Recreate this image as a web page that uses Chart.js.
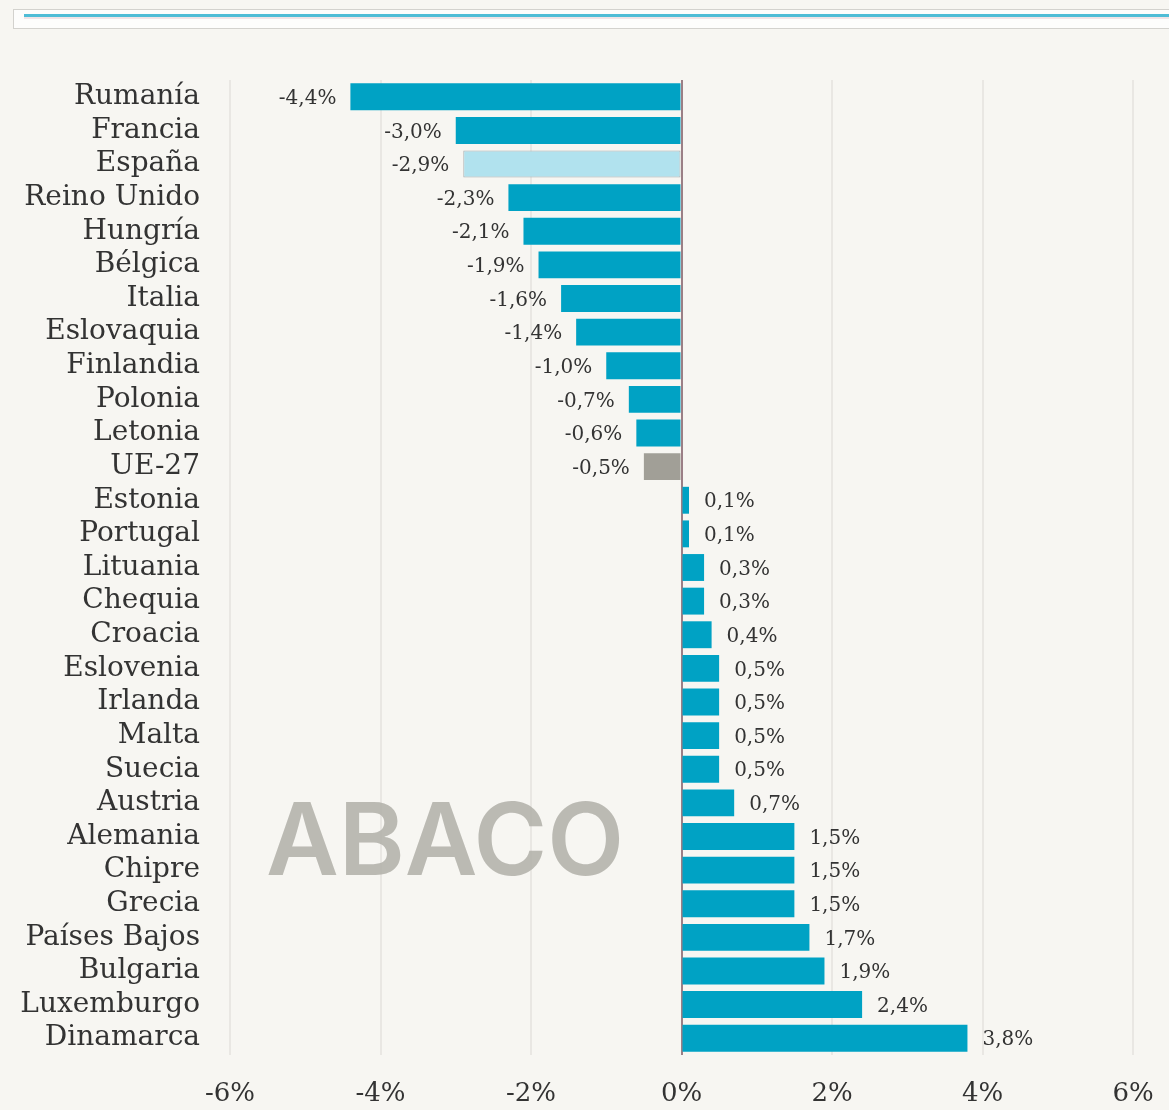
<!DOCTYPE html>
<html>
<head>
<meta charset="utf-8">
<script src="https://cdn.jsdelivr.net/npm/chart.js@4.4.6/dist/chart.umd.min.js"></script>
<style>
  html, body { margin: 0; padding: 0; background: #f7f6f2; }
  #wrap { position: relative; width: 1169px; height: 1110px; }
  /* header strip at the top of the card */
  #strip {
    position: absolute; left: 13px; top: 9px; width: 1170px; height: 20px;
    background: #fdfdfc; border: 1px solid #d3d2ce; box-sizing: border-box;
  }
  #strip::after {
    content: ""; position: absolute; left: 10px; right: 0; top: 4px; height: 3px;
    background: #4fbdd6; box-shadow: 0 2px 0 #f1e4e6;
  }
  canvas { position: absolute; left: 0; top: 0; }
</style>
</head>
<body>
<div id="wrap">
  <div id="strip"></div>
  <canvas id="chart" width="1169" height="1110"></canvas>
</div>
<script>
// countries, top to bottom
const countries = [
  "Rumanía", "Francia", "España", "Reino Unido", "Hungría", "Bélgica", "Italia",
  "Eslovaquia", "Finlandia", "Polonia", "Letonia", "UE-27", "Estonia", "Portugal",
  "Lituania", "Chequia", "Croacia", "Eslovenia", "Irlanda", "Malta", "Suecia",
  "Austria", "Alemania", "Chipre", "Grecia", "Países Bajos", "Bulgaria",
  "Luxemburgo", "Dinamarca"
];
// change in %
const changes = [
  -4.4, -3.0, -2.9, -2.3, -2.1, -1.9, -1.6,
  -1.4, -1.0, -0.7, -0.6, -0.5, 0.1, 0.1,
  0.3, 0.3, 0.4, 0.5, 0.5, 0.5, 0.5,
  0.7, 1.5, 1.5, 1.5, 1.7, 1.9,
  2.4, 3.8
];
const xTicks = [-6, -4, -2, 0, 2, 4, 6];

const serif = "'DejaVu Serif', 'Liberation Serif', serif";
const fmt = v => v.toFixed(1).replace('.', ',') + '%';

const barColors = countries.map(c =>
  c === "España" ? "#b1e2ee" : c === "UE-27" ? "#a19f97" : "#00a2c4");
const borderColors = countries.map(c => c === "España" ? "#a9aeb0" : "rgba(0,0,0,0)");
const borderWidths = countries.map(c => c === "España" ? 1 : 0);

// value labels next to each bar
const valueLabels = {
  id: 'valueLabels',
  afterDatasetsDraw(chart) {
    const ctx = chart.ctx;
    const meta = chart.getDatasetMeta(0);
    ctx.save();
    ctx.font = "20px " + serif;
    ctx.fillStyle = "#333333";
    ctx.textBaseline = "middle";
    meta.data.forEach((bar, i) => {
      const v = changes[i];
      if (v < 0) {
        ctx.textAlign = "right";
        ctx.fillText(fmt(v), bar.x - 14, bar.y + 2);
      } else {
        ctx.textAlign = "left";
        ctx.fillText(fmt(v), bar.x + 15, bar.y + 2);
      }
    });
    ctx.restore();
  }
};

// watermark
const watermark = {
  id: 'watermark',
  afterDatasetsDraw(chart) {
    const ctx = chart.ctx;
    ctx.save();
    ctx.font = "600 100px Inter, 'DejaVu Sans', sans-serif";
    ctx.fillStyle = "rgba(176,175,168,0.85)";
    ctx.textAlign = "center";
    ctx.textBaseline = "middle";
    ctx.fillText("ABACO", 445, 845);
    ctx.restore();
  }
};

new Chart(document.getElementById('chart'), {
  type: 'bar',
  data: {
    labels: countries,
    datasets: [{
      data: changes,
      backgroundColor: barColors,
      borderColor: borderColors,
      borderWidth: borderWidths,
      borderSkipped: false,
      barPercentage: 0.8,
      categoryPercentage: 1.0
    }]
  },
  options: {
    indexAxis: 'y',
    responsive: false,
    animation: false,
    layout: { padding: { left: 0, right: 36, top: 80, bottom: 0 } },
    plugins: {
      legend: { display: false },
      tooltip: { enabled: false }
    },
    scales: {
      x: {
        min: -6, max: 6,
        afterBuildTicks: s => { s.ticks = xTicks.map(v => ({ value: v })); },
        afterFit: s => { s.height = 55; s.paddingLeft = 0; s.paddingRight = 0; },
        border: { display: false },
        grid: {
          drawTicks: false,
          lineWidth: 2,
          color: ctx => ctx.tick && ctx.tick.value === 0 ? "#9b7f86" : "#e9e7e3"
        },
        ticks: {
          padding: 24,
          maxRotation: 0,
          color: "#333333",
          font: { family: serif, size: 26 },
          callback: v => v + '%'
        }
      },
      y: {
        afterFit: s => { s.width = 230; },
        border: { display: false },
        grid: { display: false, drawTicks: false },
        ticks: {
          padding: 30,
          autoSkip: false,
          color: "#333333",
          font: { family: serif, size: 28 }
        }
      }
    }
  },
  plugins: [valueLabels, watermark]
});
</script>
</body>
</html>
